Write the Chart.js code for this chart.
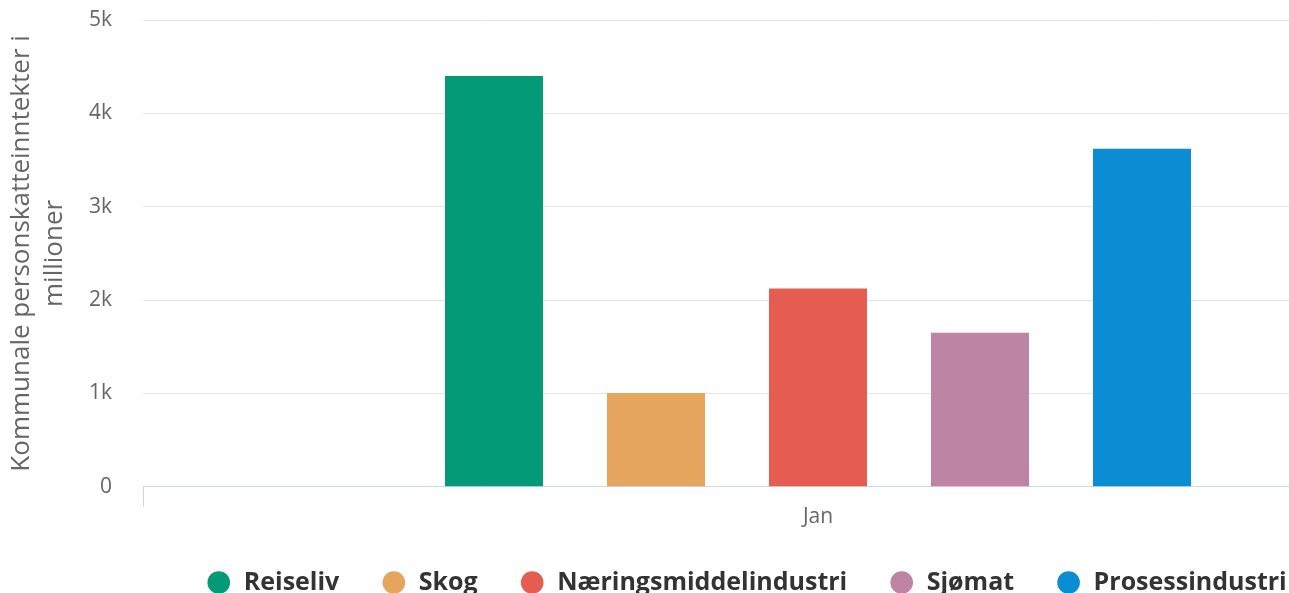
<!DOCTYPE html>
<html>
<head>
<meta charset="utf-8">
<script src="https://cdn.jsdelivr.net/npm/chart.js@4.4.1/dist/chart.umd.min.js"></script>
<style>
  html, body { margin: 0; padding: 0; background: #fff; overflow: hidden; }
  #wrap { width: 1498px; height: 593px; }
</style>
</head>
<body>
<div id="wrap"><canvas id="chart" width="1498" height="593"></canvas></div>
<script>
// data
var categories = ['Jan']
var seriesNames = ['Reiseliv', 'Skog', 'Næringsmiddelindustri', 'Sjømat', 'Prosessindustri']
var seriesValues = [4400, 1005, 2125, 1650, 3620]
var seriesColors = ['#039b77', '#e5a55e', '#e55c50', '#be84a3', '#0a8dd3']
var yTicks = [0, 1000, 2000, 3000, 4000, 5000]
var yTitle = ['Kommunale personskatteinntekter i', 'millioner']

var fontFam = '"Open Sans", "Noto Sans", sans-serif'

var datasets = []
for (var i = 0; i < seriesNames.length; i++) {
    datasets.push({
        label: seriesNames[i],
        data: [seriesValues[i]],
        backgroundColor: seriesColors[i],
        borderWidth: 0,
        categoryPercentage: 0.6,
        barPercentage: 0.605
    })
}

var ctx = document.getElementById('chart')
var myChart = new Chart(ctx, {
    type: 'bar',
    data: { labels: categories, datasets: datasets },
    options: {
        responsive: false,
        animation: false,
        layout: { padding: { top: 20, right: 5, left: 0, bottom: 0 } },
        plugins: {
            tooltip: { enabled: false },
            legend: {
                position: 'bottom',
                maxHeight: 65,
                labels: {
                    usePointStyle: true,
                    pointStyle: 'circle',
                    boxWidth: 26,
                    boxHeight: 16,
                    color: '#333',
                    padding: 42,
                    font: { family: fontFam, size: 25, weight: 'bold' }
                }
            }
        },
        scales: {
            x: {
                offset: true,
                grid: { drawOnChartArea: false, tickLength: 20, color: '#ccd6eb', offset: true },
                border: { color: '#ccd6eb' },
                ticks: { color: '#666', padding: -2, font: { family: fontFam, size: 21 } }
            },
            y: {
                min: 0,
                max: 5000,
                afterBuildTicks: function (axis) {
                    axis.ticks = yTicks.map(function (v) { return { value: v } })
                },
                afterFit: function (axis) { axis.width = 143 },
                grid: { color: '#e6e6e6', tickLength: 28, tickColor: 'rgba(0,0,0,0)' },
                border: { display: false },
                ticks: {
                    color: '#666',
                    padding: 3,
                    font: { family: fontFam, size: 21 },
                    callback: function (v) { return v === 0 ? '0' : (v / 1000) + 'k' }
                },
                title: {
                    display: true,
                    text: yTitle,
                    color: '#666',
                    padding: { top: 5.5, bottom: 0 },
                    font: { family: fontFam, size: 26, lineHeight: 1.27 }
                }
            }
        }
    }
})
</script>
</body>
</html>
